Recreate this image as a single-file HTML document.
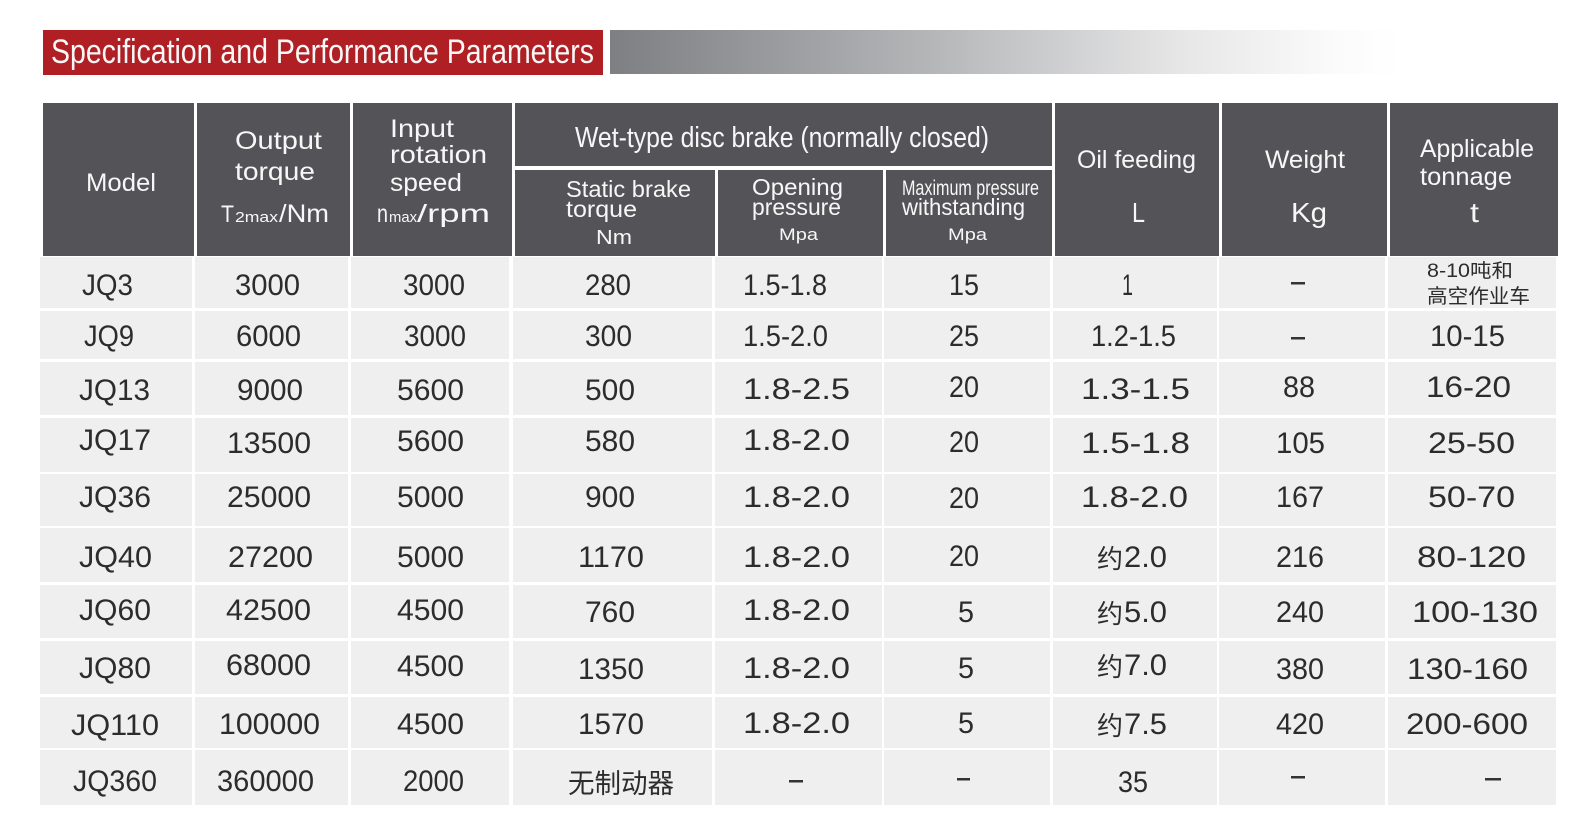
<!DOCTYPE html>
<html>
<head>
<meta charset="utf-8">
<style>
html,body{margin:0;padding:0;background:#fff;}
svg{display:block;}
.h{font-family:"Liberation Sans","Noto Sans CJK SC",sans-serif;fill:#f7f7f7;}
.b{font-family:"Liberation Sans","Noto Sans CJK SC",sans-serif;fill:#2c2c2c;font-size:30px;}
.c{font-family:"Liberation Sans","Noto Sans CJK SC",sans-serif;fill:#2c2c2c;}
.hd{fill:#545458;}
.cl{fill:#efefef;}
.d{fill:#333;}
</style>
</head>
<body>
<svg width="1583" height="825" viewBox="0 0 1583 825" xmlns="http://www.w3.org/2000/svg">
<defs>
<linearGradient id="g" x1="0" y1="0" x2="1" y2="0">
<stop offset="0" stop-color="#7e7f82"/>
<stop offset="0.4" stop-color="#b4b5b7"/>
<stop offset="0.72" stop-color="#e6e6e7"/>
<stop offset="0.92" stop-color="#fbfbfb"/>
<stop offset="1" stop-color="#ffffff"/>
</linearGradient>
</defs>
<rect width="1583" height="825" fill="#fff"/>
<!-- title -->
<rect x="43" y="30" width="560" height="45" fill="#b01f24"/>
<rect x="610" y="30" width="790" height="44" fill="url(#g)"/>
<text class="h" x="51" y="63" font-size="34" textLength="543" lengthAdjust="spacingAndGlyphs" fill="#fff">Specification and Performance Parameters</text>

<!-- header cells -->
<rect class="hd" x="43" y="103" width="151" height="153"/>
<rect class="hd" x="197" y="103" width="153" height="153"/>
<rect class="hd" x="353" y="103" width="159" height="153"/>
<rect class="hd" x="515" y="103" width="537" height="63"/>
<rect class="hd" x="515" y="170" width="200" height="86"/>
<rect class="hd" x="718" y="170" width="165" height="86"/>
<rect class="hd" x="886" y="170" width="166" height="86"/>
<rect class="hd" x="1055" y="103" width="164" height="153"/>
<rect class="hd" x="1222" y="103" width="165" height="153"/>
<rect class="hd" x="1390" y="103" width="168" height="153"/>

<!-- header text -->
<text class="h" x="86" y="191" font-size="25" textLength="70" lengthAdjust="spacingAndGlyphs">Model</text>
<text class="h" x="235" y="149" font-size="25" textLength="87" lengthAdjust="spacingAndGlyphs">Output</text>
<text class="h" x="235" y="180" font-size="25" textLength="80" lengthAdjust="spacingAndGlyphs">torque</text>
<text class="h" x="221" y="222" font-size="24" textLength="13" lengthAdjust="spacingAndGlyphs">T</text>
<text class="h" x="235" y="222" font-size="15" textLength="43" lengthAdjust="spacingAndGlyphs">2max</text>
<text class="h" x="279" y="222" font-size="25" textLength="50" lengthAdjust="spacingAndGlyphs">/Nm</text>
<text class="h" x="390" y="137" font-size="25" textLength="64" lengthAdjust="spacingAndGlyphs">Input</text>
<text class="h" x="390" y="163" font-size="25" textLength="97" lengthAdjust="spacingAndGlyphs">rotation</text>
<text class="h" x="390" y="191" font-size="25" textLength="72" lengthAdjust="spacingAndGlyphs">speed</text>
<text class="h" x="377" y="222" font-size="25" textLength="11" lengthAdjust="spacingAndGlyphs">n</text>
<text class="h" x="389" y="222" font-size="15" textLength="28" lengthAdjust="spacingAndGlyphs">max</text>
<text class="h" x="417" y="222" font-size="25" textLength="73" lengthAdjust="spacingAndGlyphs">/rpm</text>
<text class="h" x="575" y="147" font-size="29" textLength="414" lengthAdjust="spacingAndGlyphs">Wet-type disc brake (normally closed)</text>
<text class="h" x="566" y="197" font-size="23" textLength="125" lengthAdjust="spacingAndGlyphs">Static brake</text>
<text class="h" x="566" y="217" font-size="23" textLength="71" lengthAdjust="spacingAndGlyphs">torque</text>
<text class="h" x="596" y="244" font-size="20" textLength="36" lengthAdjust="spacingAndGlyphs">Nm</text>
<text class="h" x="752" y="195" font-size="23" textLength="91" lengthAdjust="spacingAndGlyphs">Opening</text>
<text class="h" x="752" y="215" font-size="23" textLength="89" lengthAdjust="spacingAndGlyphs">pressure</text>
<text class="h" x="779" y="240" font-size="17" textLength="39" lengthAdjust="spacingAndGlyphs">Mpa</text>
<text class="h" x="902" y="195" font-size="21" textLength="137" lengthAdjust="spacingAndGlyphs">Maximum pressure</text>
<text class="h" x="902" y="215" font-size="23" textLength="123" lengthAdjust="spacingAndGlyphs">withstanding</text>
<text class="h" x="948" y="240" font-size="17" textLength="39" lengthAdjust="spacingAndGlyphs">Mpa</text>
<text class="h" x="1077" y="168" font-size="25" textLength="119" lengthAdjust="spacingAndGlyphs">Oil feeding</text>
<text class="h" x="1132" y="222" font-size="28" textLength="13" lengthAdjust="spacingAndGlyphs">L</text>
<text class="h" x="1265" y="168" font-size="25" textLength="80" lengthAdjust="spacingAndGlyphs">Weight</text>
<text class="h" x="1291" y="222" font-size="28" textLength="36" lengthAdjust="spacingAndGlyphs">Kg</text>
<text class="h" x="1420" y="157" font-size="25" textLength="114" lengthAdjust="spacingAndGlyphs">Applicable</text>
<text class="h" x="1420" y="185" font-size="25" textLength="92" lengthAdjust="spacingAndGlyphs">tonnage</text>
<text class="h" x="1470" y="222" font-size="28" textLength="9" lengthAdjust="spacingAndGlyphs">t</text>

<!-- body cells -->
<g class="cl">
<rect x="40" y="257" width="152" height="51"/><rect x="195" y="257" width="153" height="51"/><rect x="351" y="257" width="158" height="51"/><rect x="513" y="257" width="199" height="51"/><rect x="715" y="257" width="167" height="51"/><rect x="884" y="257" width="166" height="51"/><rect x="1053" y="257" width="164" height="51"/><rect x="1219" y="257" width="166" height="51"/><rect x="1388" y="257" width="168" height="51"/>
<rect x="40" y="311" width="152" height="48"/><rect x="195" y="311" width="153" height="48"/><rect x="351" y="311" width="158" height="48"/><rect x="513" y="311" width="199" height="48"/><rect x="715" y="311" width="167" height="48"/><rect x="884" y="311" width="166" height="48"/><rect x="1053" y="311" width="164" height="48"/><rect x="1219" y="311" width="166" height="48"/><rect x="1388" y="311" width="168" height="48"/>
<rect x="40" y="362" width="152" height="53"/><rect x="195" y="362" width="153" height="53"/><rect x="351" y="362" width="158" height="53"/><rect x="513" y="362" width="199" height="53"/><rect x="715" y="362" width="167" height="53"/><rect x="884" y="362" width="166" height="53"/><rect x="1053" y="362" width="164" height="53"/><rect x="1219" y="362" width="166" height="53"/><rect x="1388" y="362" width="168" height="53"/>
<rect x="40" y="418" width="152" height="54"/><rect x="195" y="418" width="153" height="54"/><rect x="351" y="418" width="158" height="54"/><rect x="513" y="418" width="199" height="54"/><rect x="715" y="418" width="167" height="54"/><rect x="884" y="418" width="166" height="54"/><rect x="1053" y="418" width="164" height="54"/><rect x="1219" y="418" width="166" height="54"/><rect x="1388" y="418" width="168" height="54"/>
<rect x="40" y="474" width="152" height="52"/><rect x="195" y="474" width="153" height="52"/><rect x="351" y="474" width="158" height="52"/><rect x="513" y="474" width="199" height="52"/><rect x="715" y="474" width="167" height="52"/><rect x="884" y="474" width="166" height="52"/><rect x="1053" y="474" width="164" height="52"/><rect x="1219" y="474" width="166" height="52"/><rect x="1388" y="474" width="168" height="52"/>
<rect x="40" y="528" width="152" height="54"/><rect x="195" y="528" width="153" height="54"/><rect x="351" y="528" width="158" height="54"/><rect x="513" y="528" width="199" height="54"/><rect x="715" y="528" width="167" height="54"/><rect x="884" y="528" width="166" height="54"/><rect x="1053" y="528" width="164" height="54"/><rect x="1219" y="528" width="166" height="54"/><rect x="1388" y="528" width="168" height="54"/>
<rect x="40" y="585" width="152" height="53"/><rect x="195" y="585" width="153" height="53"/><rect x="351" y="585" width="158" height="53"/><rect x="513" y="585" width="199" height="53"/><rect x="715" y="585" width="167" height="53"/><rect x="884" y="585" width="166" height="53"/><rect x="1053" y="585" width="164" height="53"/><rect x="1219" y="585" width="166" height="53"/><rect x="1388" y="585" width="168" height="53"/>
<rect x="40" y="641" width="152" height="53"/><rect x="195" y="641" width="153" height="53"/><rect x="351" y="641" width="158" height="53"/><rect x="513" y="641" width="199" height="53"/><rect x="715" y="641" width="167" height="53"/><rect x="884" y="641" width="166" height="53"/><rect x="1053" y="641" width="164" height="53"/><rect x="1219" y="641" width="166" height="53"/><rect x="1388" y="641" width="168" height="53"/>
<rect x="40" y="697" width="152" height="51"/><rect x="195" y="697" width="153" height="51"/><rect x="351" y="697" width="158" height="51"/><rect x="513" y="697" width="199" height="51"/><rect x="715" y="697" width="167" height="51"/><rect x="884" y="697" width="166" height="51"/><rect x="1053" y="697" width="164" height="51"/><rect x="1219" y="697" width="166" height="51"/><rect x="1388" y="697" width="168" height="51"/>
<rect x="40" y="750" width="152" height="55"/><rect x="195" y="750" width="153" height="55"/><rect x="351" y="750" width="158" height="55"/><rect x="513" y="750" width="199" height="55"/><rect x="715" y="750" width="167" height="55"/><rect x="884" y="750" width="166" height="55"/><rect x="1053" y="750" width="164" height="55"/><rect x="1219" y="750" width="166" height="55"/><rect x="1388" y="750" width="168" height="55"/>
</g>

<!-- row 1 -->
<text class="b" x="82" y="295" textLength="51" lengthAdjust="spacingAndGlyphs">JQ3</text>
<text class="b" x="235" y="295" textLength="65" lengthAdjust="spacingAndGlyphs">3000</text>
<text class="b" x="403" y="295" textLength="62" lengthAdjust="spacingAndGlyphs">3000</text>
<text class="b" x="585" y="295" textLength="46" lengthAdjust="spacingAndGlyphs">280</text>
<text class="b" x="743" y="295" textLength="84" lengthAdjust="spacingAndGlyphs">1.5-1.8</text>
<text class="b" x="949" y="295" textLength="30" lengthAdjust="spacingAndGlyphs">15</text>
<text class="b" x="1122" y="295" textLength="11" lengthAdjust="spacingAndGlyphs">1</text>
<rect class="d" x="1291" y="282" width="14" height="2.5"/>
<text class="c" x="1427" y="277" font-size="19" textLength="86" lengthAdjust="spacingAndGlyphs">8-10吨和</text>
<text class="c" x="1427" y="303" font-size="20" textLength="103" lengthAdjust="spacingAndGlyphs">高空作业车</text>

<!-- row 2 -->
<text class="b" x="84" y="346" textLength="50" lengthAdjust="spacingAndGlyphs">JQ9</text>
<text class="b" x="236" y="346" textLength="65" lengthAdjust="spacingAndGlyphs">6000</text>
<text class="b" x="404" y="346" textLength="62" lengthAdjust="spacingAndGlyphs">3000</text>
<text class="b" x="585" y="346" textLength="47" lengthAdjust="spacingAndGlyphs">300</text>
<text class="b" x="743" y="346" textLength="85" lengthAdjust="spacingAndGlyphs">1.5-2.0</text>
<text class="b" x="949" y="346" textLength="30" lengthAdjust="spacingAndGlyphs">25</text>
<text class="b" x="1091" y="346" textLength="85" lengthAdjust="spacingAndGlyphs">1.2-1.5</text>
<rect class="d" x="1291" y="337" width="14" height="2.5"/>
<text class="b" x="1430" y="346" textLength="75" lengthAdjust="spacingAndGlyphs">10-15</text>

<!-- row 3 -->
<text class="b" x="79" y="400" textLength="71" lengthAdjust="spacingAndGlyphs">JQ13</text>
<text class="b" x="237" y="400" textLength="66" lengthAdjust="spacingAndGlyphs">9000</text>
<text class="b" x="397" y="400" textLength="67" lengthAdjust="spacingAndGlyphs">5600</text>
<text class="b" x="585" y="400" textLength="50" lengthAdjust="spacingAndGlyphs">500</text>
<text class="b" x="743" y="399" textLength="107" lengthAdjust="spacingAndGlyphs">1.8-2.5</text>
<text class="b" x="949" y="397" textLength="30" lengthAdjust="spacingAndGlyphs">20</text>
<text class="b" x="1081" y="399" textLength="109" lengthAdjust="spacingAndGlyphs">1.3-1.5</text>
<text class="b" x="1283" y="397" textLength="32" lengthAdjust="spacingAndGlyphs">88</text>
<text class="b" x="1426" y="397" textLength="85" lengthAdjust="spacingAndGlyphs">16-20</text>

<!-- row 4 -->
<text class="b" x="79" y="450" textLength="72" lengthAdjust="spacingAndGlyphs">JQ17</text>
<text class="b" x="227" y="453" textLength="84" lengthAdjust="spacingAndGlyphs">13500</text>
<text class="b" x="397" y="451" textLength="67" lengthAdjust="spacingAndGlyphs">5600</text>
<text class="b" x="585" y="451" textLength="50" lengthAdjust="spacingAndGlyphs">580</text>
<text class="b" x="743" y="450" textLength="107" lengthAdjust="spacingAndGlyphs">1.8-2.0</text>
<text class="b" x="949" y="452" textLength="30" lengthAdjust="spacingAndGlyphs">20</text>
<text class="b" x="1081" y="453" textLength="109" lengthAdjust="spacingAndGlyphs">1.5-1.8</text>
<text class="b" x="1276" y="453" textLength="49" lengthAdjust="spacingAndGlyphs">105</text>
<text class="b" x="1428" y="453" textLength="87" lengthAdjust="spacingAndGlyphs">25-50</text>

<!-- row 5 -->
<text class="b" x="79" y="507" textLength="72" lengthAdjust="spacingAndGlyphs">JQ36</text>
<text class="b" x="227" y="507" textLength="84" lengthAdjust="spacingAndGlyphs">25000</text>
<text class="b" x="397" y="507" textLength="67" lengthAdjust="spacingAndGlyphs">5000</text>
<text class="b" x="585" y="507" textLength="50" lengthAdjust="spacingAndGlyphs">900</text>
<text class="b" x="743" y="507" textLength="107" lengthAdjust="spacingAndGlyphs">1.8-2.0</text>
<text class="b" x="949" y="508" textLength="30" lengthAdjust="spacingAndGlyphs">20</text>
<text class="b" x="1081" y="507" textLength="107" lengthAdjust="spacingAndGlyphs">1.8-2.0</text>
<text class="b" x="1276" y="507" textLength="48" lengthAdjust="spacingAndGlyphs">167</text>
<text class="b" x="1428" y="507" textLength="87" lengthAdjust="spacingAndGlyphs">50-70</text>

<!-- row 6 -->
<text class="b" x="79" y="567" textLength="73" lengthAdjust="spacingAndGlyphs">JQ40</text>
<text class="b" x="228" y="567" textLength="85" lengthAdjust="spacingAndGlyphs">27200</text>
<text class="b" x="397" y="567" textLength="67" lengthAdjust="spacingAndGlyphs">5000</text>
<text class="b" x="578" y="567" textLength="66" lengthAdjust="spacingAndGlyphs">1170</text>
<text class="b" x="743" y="567" textLength="107" lengthAdjust="spacingAndGlyphs">1.8-2.0</text>
<text class="b" x="949" y="566" textLength="30" lengthAdjust="spacingAndGlyphs">20</text>
<text class="c" x="1097" y="568" font-size="26" textLength="26" lengthAdjust="spacingAndGlyphs">约</text>
<text class="b" x="1124" y="567" textLength="43" lengthAdjust="spacingAndGlyphs">2.0</text>
<text class="b" x="1276" y="567" textLength="48" lengthAdjust="spacingAndGlyphs">216</text>
<text class="b" x="1417" y="567" textLength="109" lengthAdjust="spacingAndGlyphs">80-120</text>

<!-- row 7 -->
<text class="b" x="79" y="620" textLength="72" lengthAdjust="spacingAndGlyphs">JQ60</text>
<text class="b" x="226" y="620" textLength="85" lengthAdjust="spacingAndGlyphs">42500</text>
<text class="b" x="397" y="620" textLength="67" lengthAdjust="spacingAndGlyphs">4500</text>
<text class="b" x="585" y="622" textLength="50" lengthAdjust="spacingAndGlyphs">760</text>
<text class="b" x="743" y="620" textLength="107" lengthAdjust="spacingAndGlyphs">1.8-2.0</text>
<text class="b" x="958" y="622" textLength="16" lengthAdjust="spacingAndGlyphs">5</text>
<text class="c" x="1097" y="623" font-size="26" textLength="26" lengthAdjust="spacingAndGlyphs">约</text>
<text class="b" x="1124" y="622" textLength="43" lengthAdjust="spacingAndGlyphs">5.0</text>
<text class="b" x="1276" y="622" textLength="48" lengthAdjust="spacingAndGlyphs">240</text>
<text class="b" x="1412" y="622" textLength="126" lengthAdjust="spacingAndGlyphs">100-130</text>

<!-- row 8 -->
<text class="b" x="79" y="678" textLength="72" lengthAdjust="spacingAndGlyphs">JQ80</text>
<text class="b" x="226" y="675" textLength="85" lengthAdjust="spacingAndGlyphs">68000</text>
<text class="b" x="397" y="676" textLength="67" lengthAdjust="spacingAndGlyphs">4500</text>
<text class="b" x="578" y="679" textLength="66" lengthAdjust="spacingAndGlyphs">1350</text>
<text class="b" x="743" y="678" textLength="107" lengthAdjust="spacingAndGlyphs">1.8-2.0</text>
<text class="b" x="958" y="678" textLength="16" lengthAdjust="spacingAndGlyphs">5</text>
<text class="c" x="1097" y="676" font-size="26" textLength="26" lengthAdjust="spacingAndGlyphs">约</text>
<text class="b" x="1124" y="675" textLength="43" lengthAdjust="spacingAndGlyphs">7.0</text>
<text class="b" x="1276" y="679" textLength="48" lengthAdjust="spacingAndGlyphs">380</text>
<text class="b" x="1407" y="679" textLength="121" lengthAdjust="spacingAndGlyphs">130-160</text>

<!-- row 9 -->
<text class="b" x="71" y="735" textLength="88" lengthAdjust="spacingAndGlyphs">JQ110</text>
<text class="b" x="219" y="734" textLength="101" lengthAdjust="spacingAndGlyphs">100000</text>
<text class="b" x="397" y="734" textLength="67" lengthAdjust="spacingAndGlyphs">4500</text>
<text class="b" x="578" y="734" textLength="66" lengthAdjust="spacingAndGlyphs">1570</text>
<text class="b" x="743" y="733" textLength="107" lengthAdjust="spacingAndGlyphs">1.8-2.0</text>
<text class="b" x="958" y="733" textLength="16" lengthAdjust="spacingAndGlyphs">5</text>
<text class="c" x="1097" y="735" font-size="26" textLength="26" lengthAdjust="spacingAndGlyphs">约</text>
<text class="b" x="1124" y="734" textLength="43" lengthAdjust="spacingAndGlyphs">7.5</text>
<text class="b" x="1276" y="734" textLength="48" lengthAdjust="spacingAndGlyphs">420</text>
<text class="b" x="1406" y="734" textLength="122" lengthAdjust="spacingAndGlyphs">200-600</text>

<!-- row 10 -->
<text class="b" x="73" y="791" textLength="84" lengthAdjust="spacingAndGlyphs">JQ360</text>
<text class="b" x="217" y="791" textLength="97" lengthAdjust="spacingAndGlyphs">360000</text>
<text class="b" x="403" y="791" textLength="61" lengthAdjust="spacingAndGlyphs">2000</text>
<text class="c" x="568" y="793" font-size="27" textLength="106" lengthAdjust="spacingAndGlyphs">无制动器</text>
<rect class="d" x="789" y="780" width="14" height="2.5"/>
<rect class="d" x="957" y="778" width="13" height="2.5"/>
<text class="b" x="1118" y="792" textLength="30" lengthAdjust="spacingAndGlyphs">35</text>
<rect class="d" x="1291" y="776" width="14" height="2.5"/>
<rect class="d" x="1485" y="778" width="16" height="2.5"/>
</svg>
</body>
</html>
